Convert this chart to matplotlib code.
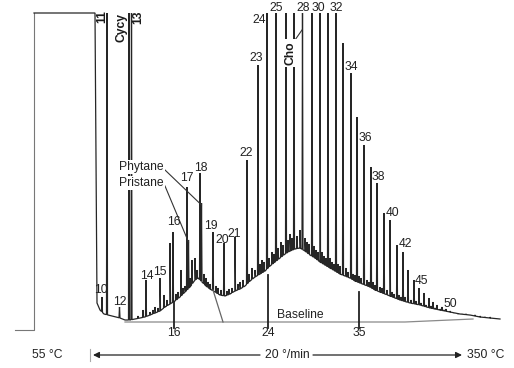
import numpy as np
import matplotlib
matplotlib.use("Agg")
import matplotlib.pyplot as plt

plt.rcParams['font.family'] = ['Liberation Sans', 'DejaVu Sans']

# ---------------- data (retention time in arbitrary units, signal in arbitrary units) ----
# solvent front + unresolved complex hump (envelope of the trace)
solvent_rt = [1.5, 3.4, 3.4, 9.5]
solvent_sig = [-8, -8, 309, 309]

env_rt = [9.5, 9.7, 10.0, 10.4, 10.8, 11.2, 11.6, 12.0, 12.5, 13.0, 13.5, 14.0, 14.5,
          15.0, 15.5, 16.0, 16.5, 17.0, 17.5, 18.0, 18.5, 19.0, 19.5, 19.8, 20.2, 20.6,
          21.0, 21.5, 22.0, 22.5, 23.0, 23.5, 24.0, 24.5, 25.0, 25.5, 26.0, 26.5, 27.0,
          27.5, 28.0, 28.5, 29.0, 29.5, 30.0, 30.5, 31.0, 31.5, 32.0, 32.5, 33.0, 33.5,
          34.0, 34.5, 35.0, 35.5, 36.0, 36.5, 37.0, 37.5, 38.0, 39.0, 40.0, 41.0, 42.0,
          43.0, 44.0, 45.0, 46.0, 47.0, 48.0, 49.0, 50.0]
env_sig = [309, 19, 12, 8, 7, 6, 5, 4, 2, 2, 3, 4, 5,
           7, 9, 11, 15, 18, 21, 25, 30, 35, 42, 44, 40, 36,
           33, 30, 27, 26, 28, 31, 33, 36, 41, 45, 48, 51, 56,
           60, 64, 68, 71, 73, 74, 71, 67, 64, 60, 57, 54, 51,
           48, 46, 44, 41, 39, 37, 35, 32, 30, 26, 22, 19, 17,
           14, 12, 10, 8, 7, 5, 4, 3]

# resolved peaks: retention time and apex signal
peak_rt = [10.2, 10.7, 11.95, 12.9, 13.15, 14.6, 16.0, 17.3, 18.7, 18.85, 20.0, 20.15,
           21.3, 22.4, 23.5, 24.7, 25.8, 26.7, 27.6, 28.6, 29.4, 30.25, 31.2, 32.0,
           32.8, 33.6, 34.3, 35.1, 35.7, 36.4, 37.1, 37.7, 38.4, 39.0, 39.7, 40.3,
           40.8, 41.4, 41.9, 42.4, 42.9, 43.3, 43.7, 44.2, 44.6, 45.0, 45.4, 45.8]
peak_sig = [25, 309, 15, 309, 309, 42, 44, 90, 135, 82, 149, 119,
            90, 79, 85, 162, 257, 309, 309, 309, 309, 309, 309, 309,
            309, 309, 279, 249, 205, 177, 155, 139, 109, 102, 77, 70,
            52, 42, 34, 29, 24, 20, 17, 15, 13, 11, 9, 8]

# minor (unlabelled) peaks riding on the hump
minor_rt = [13.8, 14.3, 15.0, 15.3, 15.5, 15.8, 16.4, 16.7, 17.0, 17.6, 17.8, 18.1,
            18.3, 18.5, 19.0, 19.2, 19.5, 19.7, 20.4, 20.6, 20.8, 21.0, 21.6, 21.8,
            22.1, 22.7, 22.9, 23.2, 23.8, 24.0, 24.3, 24.9, 25.2, 25.5, 26.0, 26.2,
            26.4, 26.9, 27.2, 27.4, 27.8, 28.1, 28.3, 28.8, 29.0, 29.2, 29.7, 30.0,
            30.5, 30.7, 30.9, 31.4, 31.6, 31.8, 32.2, 32.4, 32.6, 33.0, 33.2, 33.4,
            33.8, 34.0, 34.6, 34.8, 35.3, 35.5, 35.9, 36.1, 36.7, 36.9, 37.3, 37.5,
            38.0, 38.2, 38.7, 39.2, 39.4, 39.9, 40.1, 40.5, 41.1, 41.6, 42.1, 42.6,
            43.1, 43.5, 44.0, 44.4, 46.2, 46.6, 47.0, 47.5, 48.0, 48.5, 49.0]
minor_sig = [6, 12, 10, 12, 15, 14, 27, 22, 79, 28, 30, 52,
             34, 36, 44, 62, 64, 52, 48, 44, 40, 38, 36, 34,
             32, 31, 33, 34, 38, 40, 42, 48, 54, 52, 58, 62,
             60, 64, 70, 68, 74, 80, 77, 82, 88, 84, 86, 92,
             84, 80, 78, 76, 72, 70, 70, 66, 64, 64, 60, 58,
             58, 56, 54, 50, 48, 47, 46, 44, 42, 40, 40, 37,
             35, 34, 32, 30, 28, 27, 25, 25, 22, 21, 19, 17,
             16, 14, 13, 12, 8, 8, 7, 7, 6, 5, 5]

# peak labels
lab_text = ["10", "12", "14", "15", "16", "17", "18", "19", "20", "21", "22", "23",
            "24", "25", "28", "30", "32", "34", "36", "38", "40", "42", "45", "50",
            "Baseline"]
lab_rt = [10.1, 12.0, 14.7, 16.0, 17.4, 18.7, 20.1, 21.1, 22.2, 23.4, 24.6, 25.6,
          25.9, 27.6, 30.3, 31.8, 33.6, 35.1, 36.5, 37.8, 39.2, 40.5, 42.1, 45.0,
          30.0]
lab_sig = [32, 20, 46, 50, 100, 144, 154, 96, 82, 88, 169, 264,
           302, 314, 314, 314, 314, 255, 184, 145, 109, 78, 41, 18,
           7]

rot_text = ["11", "Cycy", "13", "Cho"]
rot_rt = [10.2, 12.2, 13.8, 29.0]
rot_sig = [305, 294, 305, 269]

# retention markers on the baseline
marker_text = ["16", "24", "35"]
marker_rt = [17.4, 26.8, 35.9]
marker_top = [20, 47, 30]

baseline_rt = [12.5, 40.5, 47.3]
baseline_sig = [0, 0, 3]

temp_text = ["55 °C", "20 °/min", "350 °C"]
temp_rt = [4.7, 28.7, 48.6]

# ---------------- figure ----------------
fig = plt.figure(figsize=(5.14, 3.68), dpi=100)
ax = fig.add_axes([0, 0, 1, 1])
ax.set_xlim(0, 51.4)
ax.set_ylim(-46, 322)
ax.axis('off')

ink = '#262626'

# build the trace: envelope plus narrow spikes
hw = 0.05
pts = list(zip(env_rt, env_sig))
for rt, sg in list(zip(peak_rt, peak_sig)) + list(zip(minor_rt, minor_sig)):
    b1 = np.interp(rt - hw, env_rt, env_sig)
    b2 = np.interp(rt + hw, env_rt, env_sig)
    pts += [(rt - hw, b1), (rt, sg), (rt + hw, b2)]
pts.sort(key=lambda p: p[0])
tr_x = list(solvent_rt) + [p[0] for p in pts]
tr_y = list(solvent_sig) + [p[1] for p in pts]
ax.plot(tr_x[:3], tr_y[:3], color='#777777', lw=0.8)
ax.plot(tr_x[2:], tr_y[2:], color=ink, lw=0.9, solid_joinstyle='miter')

# baseline and its connector
ax.plot(baseline_rt, baseline_sig, color='#8a8a8a', lw=0.9)
ax.plot([21.3, 22.3], [32, 0], color='#666666', lw=0.9)

# retention markers
for t, top, txt in zip(marker_rt, marker_top, marker_text):
    ax.plot([t, t], [top, -6], color='#222222', lw=1.3)
    ax.text(t, -11, txt, ha='center', va='center', fontsize=8.7, color='#222222')

# labels
for txt, t, s in zip(lab_text, lab_rt, lab_sig):
    ax.text(t, s, txt, ha='center', va='center', fontsize=8.7, color='#222222')

for txt, t, s in zip(rot_text, rot_rt, rot_sig):
    kw = {}
    if txt == "Cho":
        kw['bbox'] = dict(facecolor='white', edgecolor='none', pad=1.5)
    ax.text(t, s, txt, ha='center', va='center', fontsize=8.7, rotation=90,
            fontweight='bold', color='#1a1a1a', **kw)

# Pristane / Phytane with leaders
wbox = dict(facecolor='white', edgecolor='none', pad=0.8)
ax.text(16.4, 155, "Phytane", ha='right', va='center', fontsize=8.7, color='#222222',
        bbox=wbox, zorder=3)
ax.text(16.4, 139, "Pristane", ha='right', va='center', fontsize=8.7, color='#222222',
        bbox=wbox, zorder=3)
ax.plot([16.5, peak_rt[11]], [152, peak_sig[11] - 2], color='#333333', lw=0.8)
ax.plot([16.5, peak_rt[9]], [136, peak_sig[9] - 2], color='#333333', lw=0.8)
ax.plot([29.5, peak_rt[21] - 0.05], [282, 292], color='#333333', lw=0.8)

# temperature programme
ax.text(temp_rt[0], -33, temp_text[0], ha='center', va='center', fontsize=8.7, color='#222222')
ax.text(temp_rt[1], -33, temp_text[1], ha='center', va='center', fontsize=8.7, color='#222222')
ax.text(temp_rt[2], -33, temp_text[2], ha='center', va='center', fontsize=8.7, color='#222222')
ax.plot([9.0, 9.0], [-27, -39], color='#aaaaaa', lw=0.8)
ax.annotate('', xy=(9.3, -33), xytext=(26.0, -33),
            arrowprops=dict(arrowstyle='-|>', color='#222222', lw=0.9, mutation_scale=9,
                            shrinkA=0, shrinkB=0))
ax.annotate('', xy=(46.2, -33), xytext=(31.3, -33),
            arrowprops=dict(arrowstyle='-|>', color='#222222', lw=0.9, mutation_scale=9,
                            shrinkA=0, shrinkB=0))

fig.savefig("out.png", dpi=100, facecolor='white')
